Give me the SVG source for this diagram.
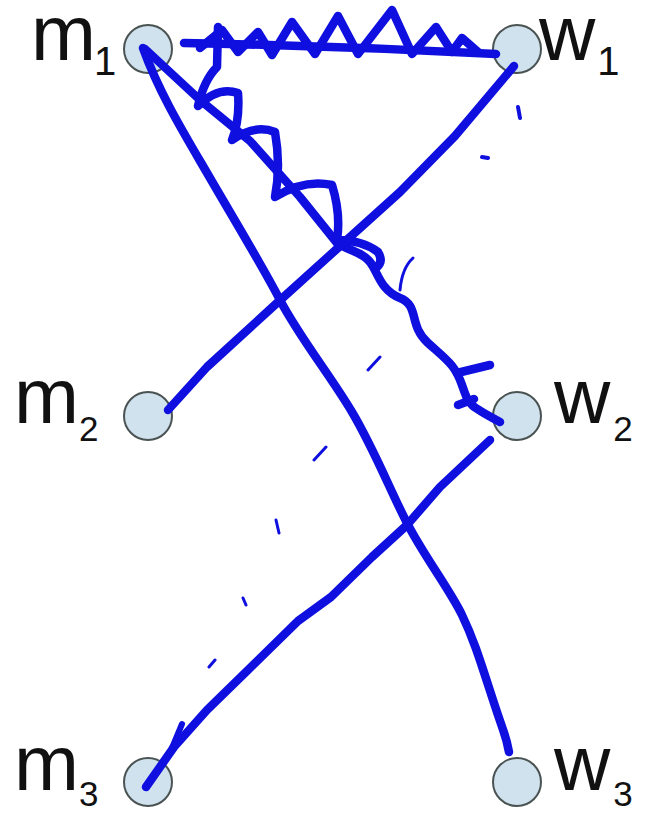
<svg xmlns="http://www.w3.org/2000/svg" width="648" height="813" viewBox="0 0 648 813">
<style>
.n{fill:#cfe2ed;stroke:#4a5252;stroke-width:2}
.l{font-family:"Liberation Sans",Arial,sans-serif;fill:#111;font-size:78px}
.s{font-size:40px}
.s2{font-size:35px}
.e{fill:none;stroke:#0f0fe0;stroke-width:8.5;stroke-linecap:round;stroke-linejoin:round}
.h{fill:none;stroke:#0f0fe0;stroke-width:3;stroke-linecap:round}
</style>
<rect width="648" height="813" fill="#fff"/>
<g id="m1"><circle class="n" cx="148" cy="49" r="24"/><text class="l" x="31" y="60">m<tspan class="s" dx="-2" dy="15">1</tspan></text></g>
<g id="w1"><circle class="n" cx="517" cy="49" r="24"/><text class="l" x="539" y="60">w<tspan class="s" dx="2" dy="15">1</tspan></text></g>
<g id="m2"><circle class="n" cx="148" cy="416" r="24"/><text class="l" x="14" y="423">m<tspan class="s2" dy="18">2</tspan></text></g>
<g id="w2"><circle class="n" cx="517" cy="416" r="24"/><text class="l" x="554" y="423">w<tspan class="s2" dx="3" dy="18">2</tspan></text></g>
<g id="m3"><circle class="n" cx="148" cy="782" r="24"/><text class="l" x="14" y="790">m<tspan class="s2" dy="16">3</tspan></text></g>
<g id="w3"><circle class="n" cx="517" cy="782" r="24"/><text class="l" x="554" y="790">w<tspan class="s2" dx="3" dy="16">3</tspan></text></g>
<g id="connectors">
<path class="e" d="M184,43 Q340,46 496,54"/>
<path class="e" d="M200,48 L222,30 L238,52 L258,32 L272,55 L292,22 L315,54 L338,16 L358,54 L392,10 L412,54 L436,27 L452,52 L462,38 L478,52"/>
<path class="e" d="M145,49 L200,100 L250,141 L300,197 L337,243 C352,252 362,252 370,262 S380,290 400,298 S408,325 428,343 S455,365 462,385 S468,405 500,422"/>
<path class="e" d="M218,27 L217,67 Q204,80 198,106 Q218,86 238,93 Q240,120 232,140 Q255,124 275,132 Q281,166 275,197 Q304,179 332,185 Q341,214 337,240 Q362,240 378,252 Q384,262 376,268"/>
<path class="e" d="M457,373 L490,365 M458,405 L474,399"/>
<path class="e" d="M143,48 C160,95 185,135 210,178 S260,262 280,300 S330,375 352,412 S390,490 407,523 S450,590 462,615 S480,660 493,700 S506,735 509,752"/>
<path class="e" d="M514,66 L455,136 L400,192 L339,247 L277,303 L207,367 L168,410"/>
<path class="e" d="M490,440 L440,487 L407,525 L372,557 L331,597 L298,621 L248,670 L207,710 L174,747 L146,787"/>
<path class="e" style="stroke-width:6" d="M182,724 L172,748"/>
<path class="h" style="stroke-width:4" d="M518,107 L520,118 M482,157 L488,158"/>
<path class="h" d="M400,290 Q402,268 413,258"/>
<path class="h" d="M368,370 L380,357 M314,460 L326,447 M276,520 L279,533 M243,598 L246,605 M209,667 L215,660"/>
</g>
</svg>
